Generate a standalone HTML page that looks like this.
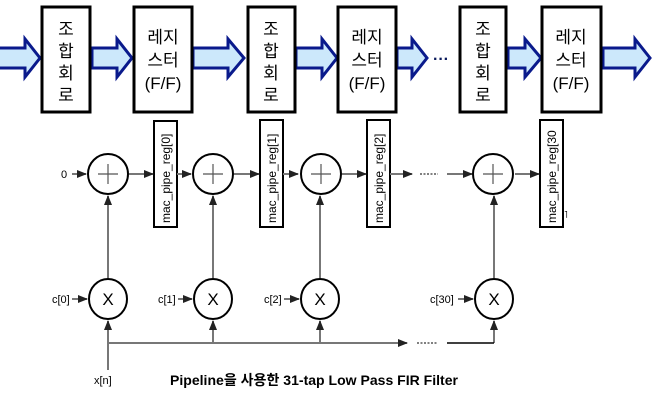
<!DOCTYPE html>
<html><head><meta charset="utf-8"><style>
html,body{margin:0;padding:0;background:#fff;}
svg{display:block;}
text{font-family:"Liberation Sans","Noto Sans CJK KR",sans-serif;}
</style></head><body>
<svg width="655" height="401" viewBox="0 0 655 401" xmlns="http://www.w3.org/2000/svg">
<defs>
<marker id="ah" viewBox="0 0 10 10" refX="9" refY="5" markerWidth="5" markerHeight="5" orient="auto"><path d="M0,1 L10,5 L0,9 z" fill="#222"/></marker>
</defs>
<g fill="#cce8fb" stroke="#0a1a8c" stroke-width="3" stroke-linejoin="miter">
<path d="M-2,48 H25 V39 L40,58 L25,77 V68 H-2 z"/>
<path d="M92,48 H117 V39 L132,58 L117,77 V68 H92 z"/>
<path d="M193,48 H228 V39 L244,58 L228,77 V68 H193 z"/>
<path d="M296,48 H322 V39 L337,58 L322,77 V68 H296 z"/>
<path d="M397,48 H412 V39 L427,58 L412,77 V68 H397 z"/>
<path d="M508,48 H525 V39 L541,58 L525,77 V68 H508 z"/>
<path d="M603,48 H635 V39 L650,58 L635,77 V68 H603 z"/>
</g>
<text x="433" y="64" font-size="16" font-weight="bold" fill="#0a1a5c">···</text>
<g fill="#fff" stroke="#000" stroke-width="3">
<rect x="42" y="7" width="48" height="105"/>
<rect x="134" y="7" width="58" height="105"/>
<rect x="248" y="7" width="47" height="105"/>
<rect x="338" y="7" width="58" height="105"/>
<rect x="460" y="7" width="46" height="105"/>
<rect x="542" y="7" width="59" height="105"/>
</g>
<g font-size="17" fill="#000" text-anchor="middle">
<g><text x="66" y="35">조</text><text x="66" y="57">합</text><text x="66" y="79">회</text><text x="66" y="101">로</text></g>
<g><text x="271" y="35">조</text><text x="271" y="57">합</text><text x="271" y="79">회</text><text x="271" y="101">로</text></g>
<g><text x="483" y="35">조</text><text x="483" y="57">합</text><text x="483" y="79">회</text><text x="483" y="101">로</text></g>
<g><text x="163" y="43">레지</text><text x="163" y="66">스터</text><text x="163" y="89">(F/F)</text></g>
<g><text x="367" y="43">레지</text><text x="367" y="66">스터</text><text x="367" y="89">(F/F)</text></g>
<g><text x="571" y="43">레지</text><text x="571" y="66">스터</text><text x="571" y="89">(F/F)</text></g>
</g>
<g fill="#fff" stroke="#000" stroke-width="2">
<rect x="154" y="121" width="23" height="106"/>
<rect x="260" y="120" width="23" height="107"/>
<rect x="367" y="120" width="23" height="107"/>
<rect x="540" y="120" width="23" height="107"/>
</g>
<g font-size="12" fill="#000">
<text transform="translate(170,223) rotate(-90)">mac_pipe_reg[0]</text>
<text transform="translate(276,223) rotate(-90)">mac_pipe_reg[1]</text>
<text transform="translate(383,223) rotate(-90)">mac_pipe_reg[2]</text>
<text transform="translate(556,223) rotate(-90)">mac_pipe_reg[30</text>
<text x="564" y="218" font-size="10">˥</text>
</g>
<g stroke="#777" stroke-width="2" fill="none" marker-end="url(#ah)">
<line x1="72" y1="174" x2="86" y2="174"/>
<line x1="129" y1="174" x2="153" y2="174"/>
<line x1="177" y1="174" x2="191" y2="174"/>
<line x1="234" y1="174" x2="259" y2="174"/>
<line x1="283" y1="174" x2="298" y2="174"/>
<line x1="342" y1="174" x2="366" y2="174"/>
<line x1="390" y1="174" x2="412" y2="174"/>
<line x1="447" y1="174" x2="472" y2="174"/>
<line x1="515" y1="174" x2="539" y2="174"/>
<line x1="108" y1="278" x2="108" y2="196"/>
<line x1="213" y1="278" x2="213" y2="196"/>
<line x1="320" y1="278" x2="320" y2="196"/>
<line x1="494" y1="278" x2="494" y2="196"/>
<line x1="72" y1="299" x2="87" y2="299"/>
<line x1="178" y1="299" x2="192" y2="299"/>
<line x1="284" y1="299" x2="299" y2="299"/>
<line x1="458" y1="299" x2="473" y2="299"/>
<line x1="108" y1="370" x2="108" y2="321"/>
<line x1="213" y1="343" x2="213" y2="321"/>
<line x1="320" y1="343" x2="320" y2="321"/>
<line x1="494" y1="343" x2="494" y2="321"/>
<line x1="108" y1="343" x2="407" y2="343"/>
</g>
<line x1="447" y1="343" x2="494" y2="343" stroke="#000" stroke-width="1.5"/>
<g stroke="#000" stroke-width="1" stroke-dasharray="2,1.5">
<line x1="417" y1="343" x2="438" y2="343"/>
<line x1="420" y1="174" x2="438" y2="174"/>
</g>
<g fill="#fff" stroke="#000" stroke-width="2">
<circle cx="108" cy="174" r="20"/>
<circle cx="213" cy="174" r="20"/>
<circle cx="321" cy="174" r="20"/>
<circle cx="493" cy="174" r="20"/>
<ellipse cx="108" cy="299" rx="19" ry="20"/>
<ellipse cx="213" cy="299" rx="19" ry="20"/>
<ellipse cx="320" cy="299" rx="19" ry="20"/>
<ellipse cx="494" cy="299" rx="19" ry="20"/>
</g>
<g stroke="#555" stroke-width="1.2">
<line x1="98" y1="174" x2="118" y2="174"/><line x1="108" y1="164" x2="108" y2="184"/>
<line x1="203" y1="174" x2="223" y2="174"/><line x1="213" y1="164" x2="213" y2="184"/>
<line x1="311" y1="174" x2="331" y2="174"/><line x1="321" y1="164" x2="321" y2="184"/>
<line x1="483" y1="174" x2="503" y2="174"/><line x1="493" y1="164" x2="493" y2="184"/>
</g>
<g font-size="17" fill="#000" text-anchor="middle">
<text x="108" y="305">X</text><text x="213" y="305">X</text><text x="320" y="305">X</text><text x="494" y="305">X</text>
</g>
<g font-size="11" fill="#000">
<text x="61" y="178">0</text>
<text x="52" y="303">c[0]</text>
<text x="158" y="303">c[1]</text>
<text x="264" y="303">c[2]</text>
<text x="430" y="303">c[30]</text>
<text x="94" y="384">x[n]</text>
</g>
<text x="170" y="385" font-size="14" font-weight="bold" fill="#000" textLength="288" lengthAdjust="spacingAndGlyphs">Pipeline을 사용한 31-tap Low Pass FIR Filter</text>
</svg>
</body></html>
